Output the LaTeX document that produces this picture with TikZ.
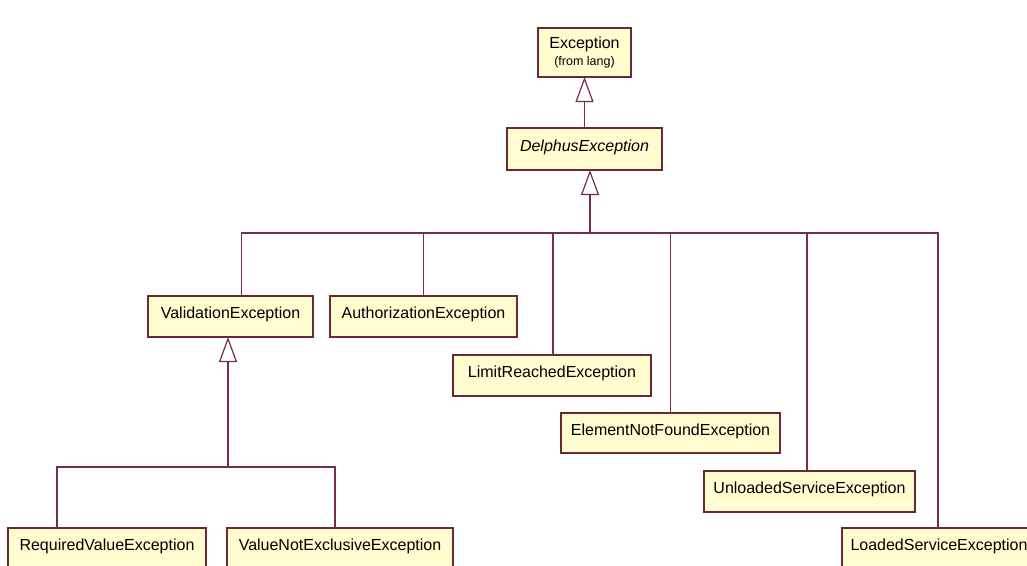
\documentclass[tikz,border=0pt]{standalone}
\usepackage{fontspec}
\setmainfont{Liberation Sans}
\usepackage{xcolor}
\usetikzlibrary{arrows.meta}

\definecolor{classfill}{RGB}{255,253,208}
\definecolor{classline}{RGB}{105,40,50}
\definecolor{wire}{RGB}{120,45,70}

\begin{document}
\begin{tikzpicture}[x=1pt, y=-1pt,
        cls/.style={rectangle, draw=classline, fill=classfill, line width=1.2pt,
            anchor=north west, inner sep=0pt, outer sep=0pt, minimum height=41pt,
            text height=12pt, text depth=8pt, font=\fontsize{16}{19}\selectfont},
        link/.style={draw=wire, line width=1.2pt},
        gen/.style={link, -{Triangle[open, length=25pt, width=18pt]}}]

    \path[use as bounding box, fill=white] (0,0) rectangle (1027,565);
    \clip (0,0) rectangle (1027,565);

    % Classes
    \node [cls, minimum width=93pt, minimum height=49pt, align=center,
        text height=, text depth=] (exc) at (538,28)
        {Exception\\[-2pt]{\fontsize{12.5}{14}\selectfont (from lang)}};
    \node [cls, minimum width=155pt, minimum height=42pt, font=\fontsize{16}{19}\selectfont\itshape]
        (delphus) at (507,128) {DelphusException};
    \node [cls, minimum width=165pt] (valid) at (148,296) {ValidationException};
    \node [cls, minimum width=187pt] (auth) at (330,296) {AuthorizationException};
    \node [cls, minimum width=198pt] (limit) at (453,355) {LimitReachedException};
    \node [cls, minimum width=219pt, minimum height=40pt] (notfound) at (561,413) {ElementNotFoundException};
    \node [cls, minimum width=211pt] (unloaded) at (704,471) {UnloadedServiceException};
    \node [cls, minimum width=194pt] (loaded) at (842,528) {LoadedServiceException};
    \node [cls, minimum width=198pt] (required) at (8,528) {RequiredValueException};
    \node [cls, minimum width=226pt] (notexcl) at (227,528) {ValueNotExclusiveException};

    % Inheritance
    \draw [gen] (delphus.north) -- (exc.south);

    \coordinate (bus) at (590,233);
    \draw [gen] (bus) -- (bus |- delphus.south);
    \draw [link] ([xshift=11pt]valid.north) |- ([xshift=-1pt]loaded.north |- bus)
        -- ([xshift=-1pt]loaded.north);
    \foreach \n/\dx in {auth/0, limit/1, notfound/0, unloaded/-2.5}
        \draw [link] ([xshift=\dx pt]\n.north) -- ([xshift=\dx pt]\n.north |- bus);

    \coordinate (vbus) at (228,467);
    \draw [gen] (vbus) -- (vbus |- valid.south);
    \draw [link] ([xshift=-50pt]required.north) |- ([xshift=-5pt]notexcl.north |- vbus)
        -- ([xshift=-5pt]notexcl.north);
\end{tikzpicture}
\end{document}
